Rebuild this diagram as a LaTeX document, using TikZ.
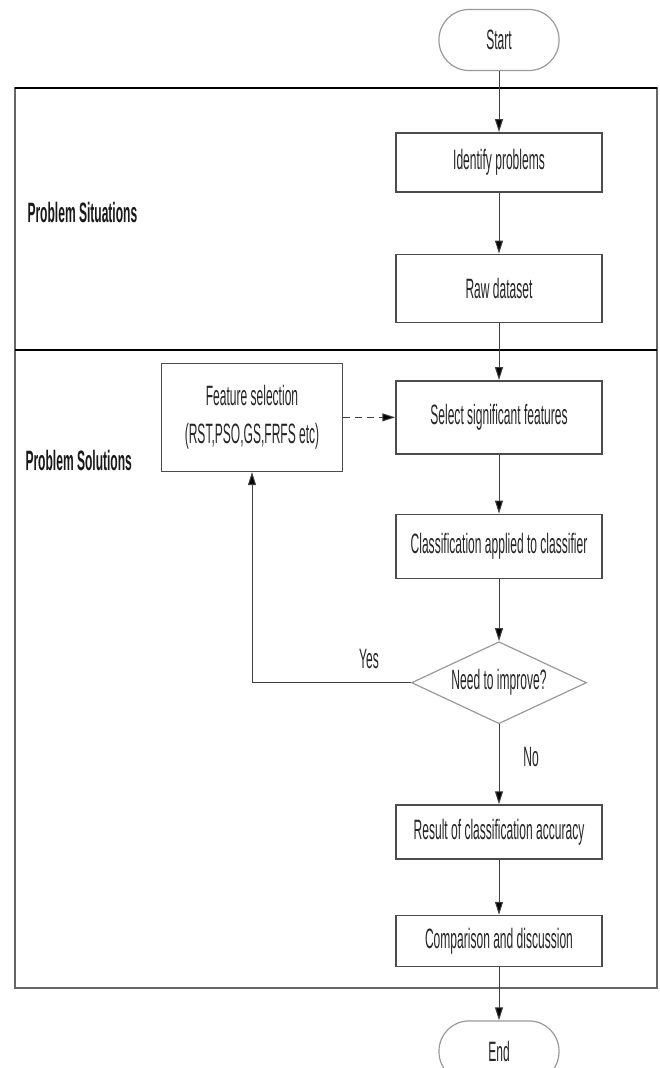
\documentclass[tikz,border=0pt]{standalone}
\usepackage{fontspec}
\setmainfont{Liberation Sans}[FakeStretch=0.43]
\usetikzlibrary{shapes.geometric,positioning,arrows.meta}
\tikzset{
	terminal/.style={rectangle, rounded corners=30pt, draw=black!40, line width=1.2pt,
		minimum width=120pt, minimum height=61pt, text=black!85,
		font=\fontsize{28}{38}\selectfont},
	proceso/.style={rectangle, draw=black!70, line width=1.5pt, minimum width=206pt,
		minimum height=62pt, text=black!85, align=center,
		font=\fontsize{28}{38}\selectfont},
	decision/.style={diamond, draw=black!40, line width=1.2pt, minimum width=175pt,
		minimum height=82pt, inner sep=0pt,
		label={[text=black!85, font=\fontsize{28}{32}\selectfont]center:#1}},
	seccion/.style={anchor=west, text=black!90, font=\bfseries\fontsize{28}{32}\selectfont},
	rotulo/.style={text=black!85, font=\fontsize{28}{32}\selectfont},
	flecha/.style={draw=black!75, line width=1pt, -{Triangle[length=13pt,width=8pt,fill=black]}}
}
\begin{document}
\begin{tikzpicture}[x=1pt, y=-1pt]
	\useasboundingbox (0,0) rectangle (660,1068);
	\draw[black!60, line width=1.5pt] (15,88) rectangle (657,988);
	\draw[black, line width=2.5pt] (15,88) -- (657,88);
	\draw[black, line width=2.5pt] (15,350) -- (657,350);

	\node[seccion] (situaciones) at (24,212) {Problem Situations};
	\node[seccion] (soluciones) at (22,460) {Problem Solutions};

	\node[terminal] (start) at (499,40) {Start};
	\node[proceso, below=61pt of start, minimum height=59pt] (identify) {Identify problems};
	\node[proceso, below=61pt of identify, minimum height=68pt] (raw) {Raw dataset};
	\node[proceso, below=57pt of raw, minimum height=73pt] (select) {Select significant features};
	\node[proceso, left=52pt of select, minimum width=181pt, minimum height=108pt] (feature) {Feature selection\\(RST,PSO,GS,FRFS etc)};
	\node[proceso, below=59pt of select, minimum height=64pt] (classify) {Classification applied to classifier};
	\node[decision=Need to improve?, below=62pt of classify] (decide) {};
	\node[proceso, below=80pt of decide, minimum height=54pt] (result) {Result of classification accuracy};
	\node[proceso, below=55pt of result, minimum height=51pt] (compare) {Comparison and discussion};
	\node[terminal, below=53pt of compare] (end) {End};

	\node[rotulo] (si) at (369,659) {Yes};
	\node[rotulo] (no) at (531,757) {No};

	\draw[flecha] (start) -- (identify);
	\draw[flecha] (identify) -- (raw);
	\draw[flecha] (raw) -- (select);
	\draw[flecha, dash pattern=on 7pt off 5pt] (feature) -- (select);
	\draw[flecha] (select) -- (classify);
	\draw[flecha] (classify) -- (decide);
	\draw[flecha] (decide.west) -| (feature.south);
	\draw[flecha] (decide) -- (result);
	\draw[flecha] (result) -- (compare);
	\draw[flecha] (compare) -- (end);
\end{tikzpicture}
\end{document}
